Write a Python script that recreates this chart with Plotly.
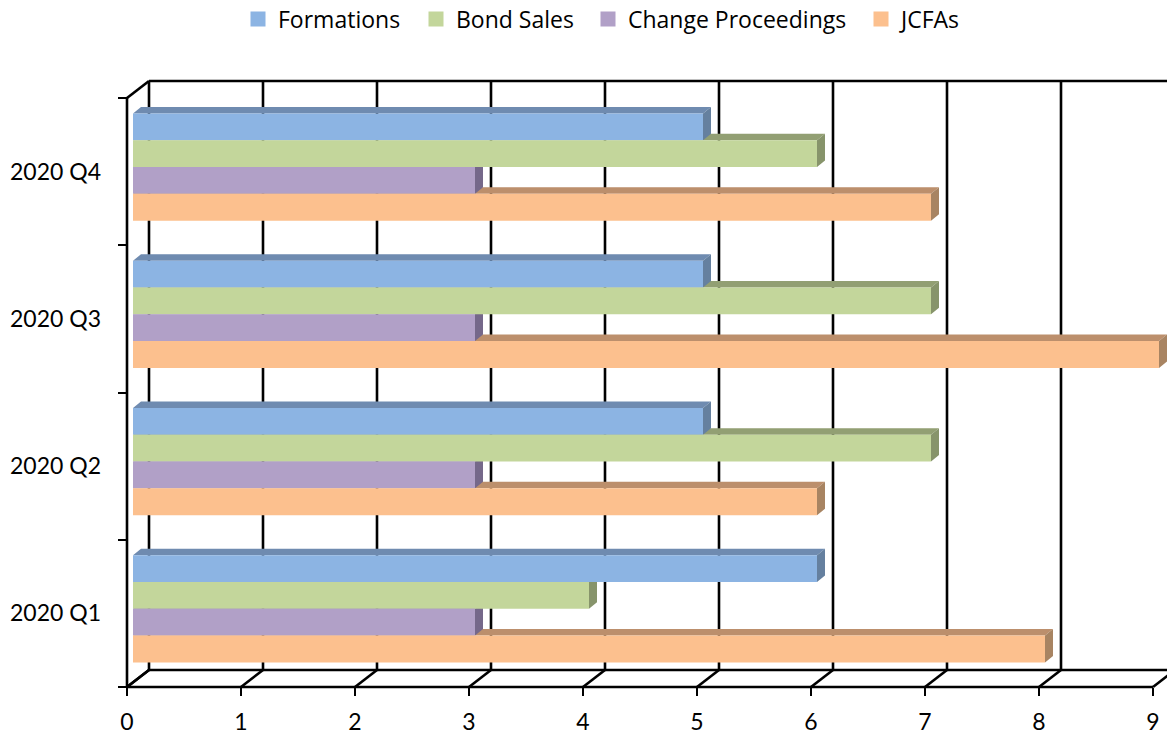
import plotly.graph_objects as go

# Quarterly counts per proceeding type
quarters = ["2020 Q1", "2020 Q2", "2020 Q3", "2020 Q4"]
formations = [6, 5, 5, 5]
bond_sales = [4, 7, 7, 6]
change_proceedings = [3, 3, 3, 3]
jcfas = [8, 6, 9, 7]
x_ticks = [0, 1, 2, 3, 4, 5, 6, 7, 8, 9]

series = [
    ("Formations", formations, "#8CB4E3", "#6F8BB0", "#65809F"),
    ("Bond Sales", bond_sales, "#C3D69B", "#929F73", "#87946B"),
    ("Change Proceedings", change_proceedings, "#B1A0C7", "#85789A", "#75688A"),
    ("JCFAs", jcfas, "#FCC08E", "#BC8F6C", "#A88462"),
]

W, H = 1167, 735
PX_X = 114.0      # pixels per value unit
PX_Y = 147.25     # pixels per category slot
LEFT, FLOOR, TOP = 127, 687, 98   # front corner of the axes box

# Pseudo-3D depth, converted to axis units
wall_dx, wall_dy = 22 / PX_X, 17 / PX_Y
bar_dx, bar_dy = 8 / PX_X, 6.5 / PX_Y
bar_base = 6 / PX_X
bar_h = 26.8 / PX_Y
group_top = 58.2 / PX_Y

# Plot area is a little larger than the box so the frame lines are not clipped
plot_l, plot_t, plot_b = 110, 70, 700
x_range = [(plot_l - LEFT) / PX_X, (W - LEFT) / PX_X]
y_range = [-0.5 - (plot_b - FLOOR) / PX_Y, 3.5 + (TOP - plot_t) / PX_Y]

fig = go.Figure()


def frame_line(xs, ys, width=2.6):
    fig.add_trace(go.Scatter(
        x=xs, y=ys, mode="lines", yaxis="y2", showlegend=False, hoverinfo="skip",
        line=dict(color="#000000", width=width),
    ))


# Back wall, floor and the receding edges of the box
boundaries = [i - 0.5 for i in range(len(quarters) + 1)]
floor_back = boundaries[0] + wall_dy
top_back = boundaries[-1] + wall_dy

grid_x, grid_y = [], []
for k in x_ticks:
    grid_x += [k + wall_dx, k + wall_dx, None, k, k + wall_dx, None]
    grid_y += [floor_back, top_back, None, boundaries[0], floor_back, None]
for b in (boundaries[0], boundaries[-1]):
    grid_x += [0, wall_dx, None]
    grid_y += [b, b + wall_dy, None]
grid_x += [wall_dx, x_range[1], None, wall_dx, x_range[1], None]
grid_y += [floor_back, floor_back, None, top_back, top_back, None]
grid_x += [0, x_ticks[-1], None, 0, 0]
grid_y += [boundaries[0], boundaries[0], None, boundaries[0], boundaries[-1]]
frame_line(grid_x, grid_y)

# Top and end faces, painted from the lowest series up
order = list(enumerate(series))
for idx, (name, values, front, top_col, side_col) in reversed(order):
    upper = group_top - idx * bar_h
    lower = upper - bar_h
    top_x, top_y, side_x, side_y = [], [], [], []
    for q, v in enumerate(values):
        end = bar_base + v
        top_x += [bar_base, bar_base + bar_dx, end + bar_dx, end, bar_base, None]
        top_y += [q + upper, q + upper + bar_dy, q + upper + bar_dy, q + upper, q + upper, None]
        side_x += [end, end + bar_dx, end + bar_dx, end, end, None]
        side_y += [q + upper, q + upper + bar_dy, q + lower + bar_dy, q + lower, q + upper, None]
    for xs, ys, col in ((top_x, top_y, top_col), (side_x, side_y, side_col)):
        fig.add_trace(go.Scatter(
            x=xs, y=ys, yaxis="y2", mode="lines", fill="toself", fillcolor=col,
            line=dict(width=0, color=col), showlegend=False, hoverinfo="skip",
        ))

# One legend per series so each entry can sit at its own position
legend_ids = ["legend", "legend2", "legend3", "legend4"]
legend_text_px = [278, 456, 628, 901]
legend_font = dict(family="Open Sans, sans-serif", size=23, color="#000000")
legend_layout = {}
for (name, values, front, _, _), lid, px in zip(series, legend_ids, legend_text_px):
    fig.add_trace(go.Scatter(
        x=[None], y=[None], yaxis="y2", mode="markers", name=name, legendgroup=name,
        legend=lid, marker=dict(symbol="square", size=15, color=front),
    ))
    legend_layout[lid] = dict(
        x=(px - 40) / W, xanchor="left", y=1 - 19 / H, yanchor="middle",
        font=legend_font, itemsizing="trace", bgcolor="rgba(0,0,0,0)",
    )

# Front faces of the bars, on the overlaying axis so they cover everything above
for idx, (name, values, front, _, _) in enumerate(series):
    fig.add_trace(go.Bar(
        y=quarters, x=values, base=bar_base, orientation="h", name=name,
        legendgroup=name, showlegend=False,
        width=bar_h, offset=group_top - (idx + 1) * bar_h,
        marker=dict(color=front, line=dict(width=0)),
    ))

tick_font = dict(family="Lato, sans-serif", size=23, color="#000000")

fig.update_layout(
    width=W, height=H,
    autosize=False,
    margin=dict(l=0, r=0, t=0, b=0, autoexpand=False),
    paper_bgcolor="#FFFFFF",
    plot_bgcolor="#FFFFFF",
    barmode="overlay",
    xaxis=dict(
        domain=[plot_l / W, 1], range=x_range, anchor="free", position=1 - FLOOR / H,
        tickmode="array", tickvals=x_ticks, ticktext=[str(v) for v in x_ticks],
        ticks="outside", ticklen=8, tickwidth=2.4, tickcolor="#000000",
        tickfont=tick_font, ticklabelstandoff=6,
        showgrid=False, zeroline=False, showline=False, fixedrange=True,
    ),
    yaxis2=dict(
        domain=[1 - plot_b / H, 1 - plot_t / H], range=y_range, visible=False,
        anchor="x", fixedrange=True,
    ),
    yaxis=dict(
        domain=[1 - plot_b / H, 1 - plot_t / H], range=y_range,
        type="category", categoryorder="array", categoryarray=quarters,
        overlaying="y2", anchor="free", position=LEFT / W,
        tickson="boundaries", ticks="outside", ticklen=9, tickwidth=2.4, tickcolor="#000000",
        tickfont=tick_font, ticklabelstandoff=26,
        showgrid=False, zeroline=False, showline=False, fixedrange=True,
    ),
    showlegend=True,
    **legend_layout,
)

fig.write_html("out.html", config={"displayModeBar": False})
